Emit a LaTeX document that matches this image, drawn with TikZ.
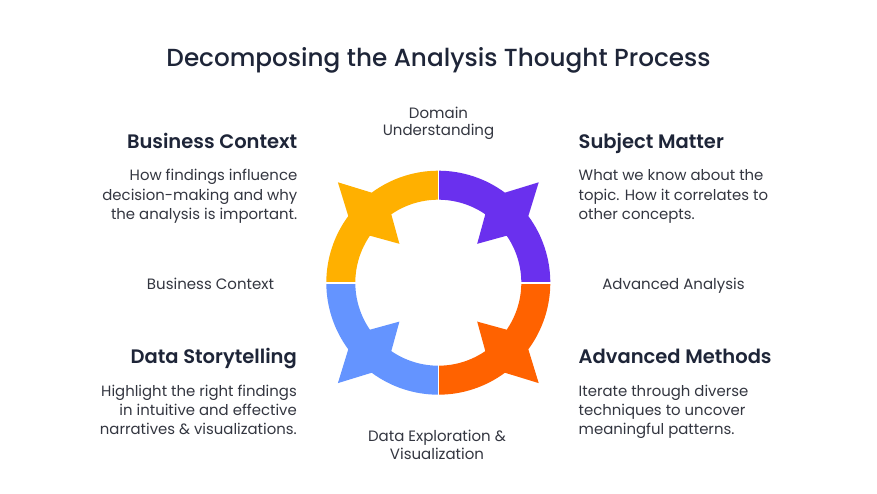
\documentclass[tikz,border=0pt]{standalone}
\usepackage{fontspec}
\setmainfont{Poppins}
\newfontfamily\semifont{Poppins SemiBold}
\newfontfamily\medfont{Poppins Medium}
\definecolor{navy}{HTML}{1E2538}
\definecolor{bodyc}{HTML}{333640}
\definecolor{cyel}{HTML}{FFB000}
\definecolor{cpur}{HTML}{6A30EE}
\definecolor{cora}{HTML}{FF6200}
\definecolor{cblu}{HTML}{6494FF}
\tikzset{
  titletext/.style={font=\medfont\fontsize{24.7}{30}\selectfont, text=navy, inner sep=0pt},
  headtext/.style={font=\semifont\fontsize{19.5}{24}\selectfont, text=navy, inner sep=0pt},
  bodytext/.style={font=\fontsize{14.9}{19}\selectfont, text=bodyc, inner sep=0pt},
  labeltext/.style={font=\fontsize{15}{17.5}\selectfont, text=bodyc, inner sep=0pt, align=center},
}
\newcommand{\quadpiece}[2]{%
  \fill[#2] (#1-45:112) arc[start angle=#1-45, end angle=#1-8.5, radius=112]
    -- (#1:142) -- (#1+8.5:112) arc[start angle=#1+8.5, end angle=#1+45, radius=112]
    -- (#1+45:83) arc[start angle=#1+45, end angle=#1+10.5, radius=83]
    -- (#1:55) -- (#1-10.5:83) arc[start angle=#1-10.5, end angle=#1-45, radius=83] -- cycle;}
\begin{document}
\begin{tikzpicture}[x=1pt,y=1pt]
\useasboundingbox[fill=white] (0,0) rectangle (877,-494);
% ring
\begin{scope}[shift={(438.3,-282.7)}]
  \quadpiece{45}{cpur}
  \quadpiece{135}{cyel}
  \quadpiece{225}{cblu}
  \quadpiece{315}{cora}
  \foreach \a in {0,90,180,270} \draw[white, line width=1.6pt] (0,0) -- (\a:116);
\end{scope}
% title
\node[titletext, anchor=base] (title) at (438.5,-66.7) {Decomposing the Analysis Thought Process};
% top centre label (base = last line)
\node[labeltext, anchor=base] (domain) at (438.5,-135.8) {Domain\\Understanding};
% business context
\node[headtext, anchor=base east] (bch) at (297.5,-148.3) {Business Context};
\node[bodytext, anchor=base east, align=right] (bcb) at (297.5,-219) {How findings influence\\decision-making and why\\the analysis is important.};
% subject matter
\node[headtext, anchor=base west] (smh) at (578.5,-148.3) {Subject Matter};
\node[bodytext, anchor=base west, align=left] (smb) at (578.5,-219) {What we know about the\\topic. How it correlates to\\other concepts.};
% side labels
\node[labeltext, anchor=base] (bcl) at (210.5,-289) {Business Context};
\node[labeltext, anchor=base] (aal) at (673.5,-289) {Advanced Analysis};
% data storytelling
\node[headtext, anchor=base east] (dsh) at (297,-363.3) {Data Storytelling};
\node[bodytext, anchor=base east, align=right] (dsb) at (297,-434.5) {Highlight the right findings\\in intuitive and effective\\narratives \& visualizations.};
% advanced methods
\node[headtext, anchor=base west] (amh) at (578.5,-363.3) {Advanced Methods};
\node[bodytext, anchor=base west, align=left] (amb) at (578.5,-434.5) {Iterate through diverse\\techniques to uncover\\meaningful patterns.};
% bottom label
\node[labeltext, anchor=base] (del) at (437,-459.2) {Data Exploration \&\\Visualization};
\end{tikzpicture}
\end{document}
